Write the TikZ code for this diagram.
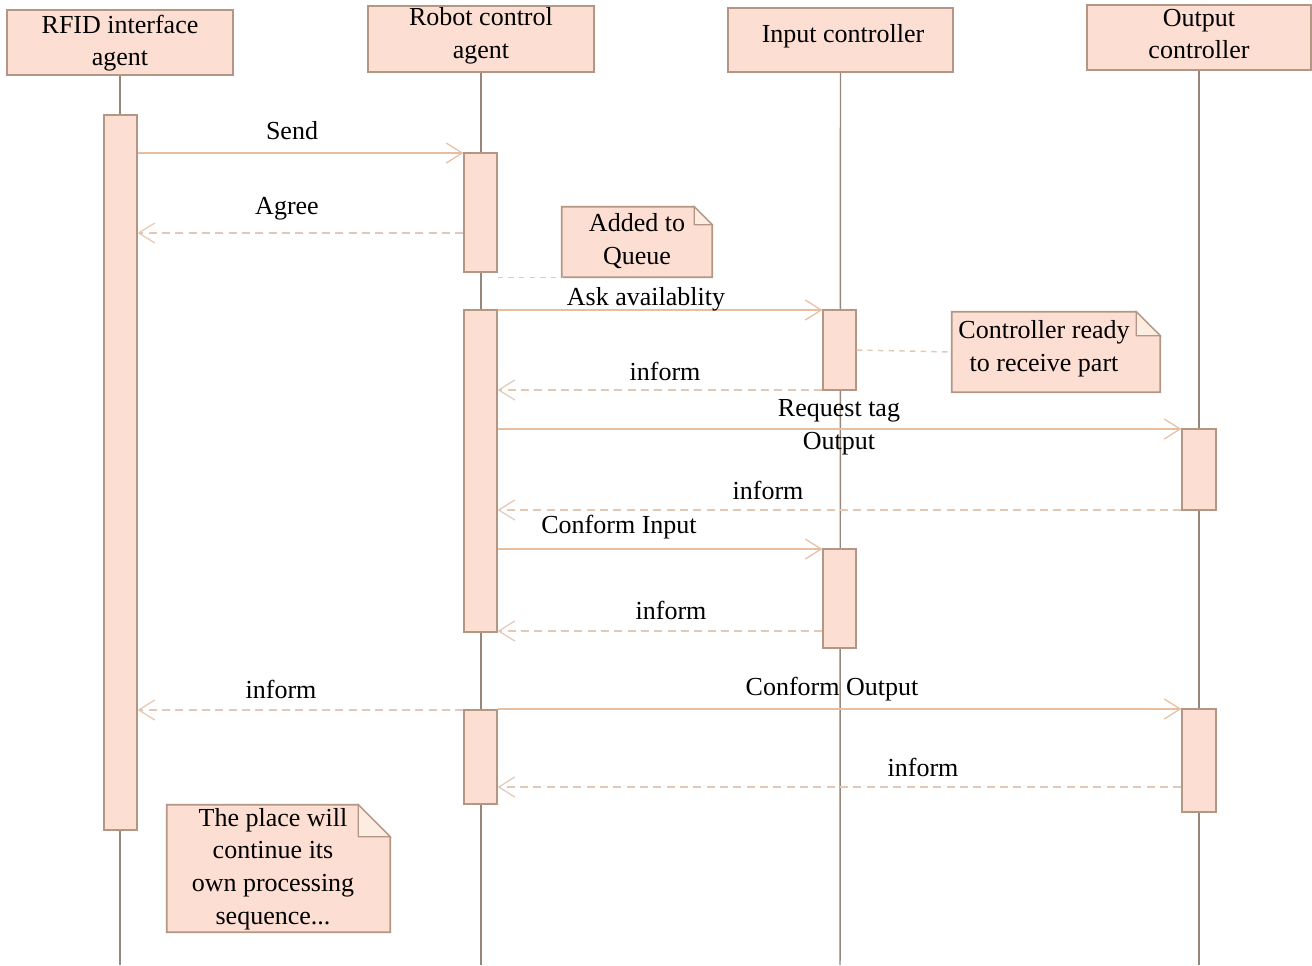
\documentclass[tikz,border=0pt]{standalone}
\usepackage{fontspec}
\setmainfont{Liberation Serif}
\usetikzlibrary{arrows.meta,fit,calc}
\definecolor{boxfill}{RGB}{252,222,210}
\definecolor{boxdraw}{RGB}{180,150,132}
\definecolor{lifec}{RGB}{150,135,122}
\definecolor{msgc}{RGB}{232,190,160}
\definecolor{retc}{RGB}{228,200,182}
\definecolor{foldc}{RGB}{252,236,226}
\tikzset{
  hdr/.style={draw=boxdraw, line width=1.2pt, fill=boxfill, inner sep=0pt, align=center, font=\fontsize{19.5}{24.5}\selectfont},
  actbar/.style={draw=boxdraw, line width=1pt, fill=boxfill, inner sep=0pt},
  life/.style={draw=lifec, line width=1.1pt},
  msg/.style={draw=msgc, line width=1.2pt, -{Straight Barb[length=12pt,width=15pt,line width=0.9pt]}},
  ret/.style={draw=retc, line width=1.2pt, dash pattern=on 6pt off 4pt, -{Straight Barb[length=12pt,width=15pt,line width=0.9pt]}},
  lbl/.style={inner sep=0pt, align=center, font=\fontsize{19.5}{24.5}\selectfont},
  notebox/.style={inner sep=0pt, align=center, font=\fontsize{19.5}{24.5}\selectfont},
  noteshape/.style={draw=boxdraw, line width=1.2pt, fill=boxfill},
  notefold/.style={draw=boxdraw, line width=1pt, fill=foldc},
  notelink/.style={draw=retc, line width=1.1pt, dash pattern=on 4pt off 4pt}
}
\newcommand{\dognote}[2]{%
  \path[noteshape] (#1.north west) -- ($(#1.north east)+(-#2,0)$) -- ($(#1.north east)+(0,-#2)$) -- (#1.south east) -- (#1.south west) -- cycle;
  \path[notefold] ($(#1.north east)+(-#2,0)$) -- ($(#1.north east)+(-#2,-#2)$) -- ($(#1.north east)+(0,-#2)$) -- cycle;
}
\begin{document}
\begin{tikzpicture}[x=0.75pt,y=-0.75pt]
\useasboundingbox[fill=white] (0,0) rectangle (1312,965);

% lifeline ends
\coordinate (l1b) at (120,965);
\coordinate (l2b) at (481,965);
\coordinate (l3b) at (840,965);
\coordinate (l4b) at (1199,965);

% headers
\node[hdr, fit={(7,10)(233,75)}] (h1) {};
\node[lbl] at (120,43) {RFID interface\\agent};
\node[hdr, fit={(368,6)(594,72)}] (h2) {};
\node[lbl] at (481,36) {Robot control\\agent};
\node[hdr, fit={(728,8)(953,72)}] (h3) {};
\node[lbl] at (843,36) {Input controller};
\node[hdr, fit={(1087,5)(1311,70)}] (h4) {};
\node[lbl] at (1199,34) {Output\\controller};

\draw[life] (h1.south) -- (l1b);
\draw[life] (h2.south) -- (l2b);
\draw[life] (h3.south) -- (l3b);
\draw[life] (h4.south) -- (l4b);

% activation bars
\node[actbar, fit={(104,115)(137,830)}] (a1) {};
\node[actbar, fit={(464,153)(497,272)}] (b1) {};
\node[actbar, fit={(464,310)(497,632)}] (b2) {};
\node[actbar, fit={(464,710)(497,804)}] (b3) {};
\node[actbar, fit={(823,310)(856,390)}] (c1) {};
\node[actbar, fit={(823,549)(856,648)}] (c2) {};
\node[actbar, fit={(1182,429)(1216,510)}] (d1) {};
\node[actbar, fit={(1182,709)(1216,812)}] (d2) {};

% message heights
\coordinate (y1) at (0,153);
\coordinate (y2) at (0,233);
\coordinate (y3) at (0,310);
\coordinate (y4) at (0,390);
\coordinate (y5) at (0,429);
\coordinate (y6) at (0,510);
\coordinate (y7) at (0,549);
\coordinate (y8) at (0,631);
\coordinate (y9) at (0,710);
\coordinate (y10) at (0,709);
\coordinate (y11) at (0,787);

\draw[msg] (a1.east |- y1) -- (b1.west |- y1);
\draw[ret] (b1.west |- y2) -- (a1.east |- y2);
\draw[msg] (b2.east |- y3) -- (c1.west |- y3);
\draw[ret] (c1.west |- y4) -- (b2.east |- y4);
\draw[msg] (b2.east |- y5) -- (d1.west |- y5);
\draw[ret] (d1.west |- y6) -- (b2.east |- y6);
\draw[msg] (b2.east |- y7) -- (c2.west |- y7);
\draw[ret] (c2.west |- y8) -- (b2.east |- y8);
\draw[ret] (b3.west |- y9) -- (a1.east |- y9);
\draw[msg] (b3.east |- y10) -- (d2.west |- y10);
\draw[ret] (d2.west |- y11) -- (b3.east |- y11);

% labels
\node[lbl] at (292,131) {Send};
\node[lbl] at (287,209) {Agree};
\node[lbl] at (646,299) {Ask availablity};
\node[lbl] at (665,371) {inform};
\node[lbl] at (839,427) {Request tag\\Output};
\node[lbl] at (768,490) {inform};
\node[lbl] at (619,527) {Conform Input};
\node[lbl] at (671,610) {inform};
\node[lbl] at (281,689) {inform};
\node[lbl] at (832,689) {Conform Output};
\node[lbl] at (923,767) {inform};

% notes
\node[notebox, fit={(562,207)(712,277)}] (n1) {};
\dognote{n1}{13.5pt}
\node[lbl] at (637,241) {Added to\\Queue};
\node[notebox, fit={(952,312)(1160,392)}] (n2) {};
\dognote{n2}{18pt}
\node[lbl] at (1044,349) {Controller ready\\to receive part};
\node[notebox, fit={(167,805)(390,932)}] (n3) {};
\dognote{n3}{24pt}
\node[lbl] at (273,869) {The place will\\continue its\\own processing\\sequence...};

\draw[notelink] (b1.east |- n1.south) -- (n1.south west);
\draw[notelink] (c1.east) -- (n2.west);
\end{tikzpicture}
\end{document}
